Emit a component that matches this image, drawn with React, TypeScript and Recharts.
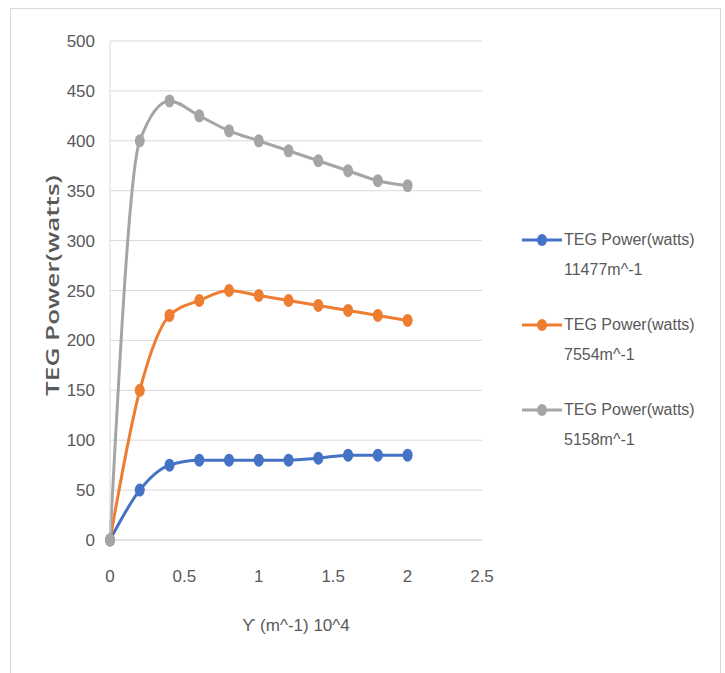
import { LineChart, Line, XAxis, YAxis, CartesianGrid, Label } from 'recharts';

const xValues = [0, 0.2, 0.4, 0.6, 0.8, 1.0, 1.2, 1.4, 1.6, 1.8, 2.0];
const power11477 = [0, 50, 75, 80, 80, 80, 80, 82, 85, 85, 85];
const power7554 = [0, 150, 225, 240, 250, 245, 240, 235, 230, 225, 220];
const power5158 = [0, 400, 440, 425, 410, 400, 390, 380, 370, 360, 355];

const xTicks = [0, 0.5, 1, 1.5, 2, 2.5];
const yTicks = [0, 50, 100, 150, 200, 250, 300, 350, 400, 450, 500];

const seriesList = [
  { key: 'a', name: 'TEG Power(watts)', sub: '11477m^-1', color: '#4472C4' },
  { key: 'b', name: 'TEG Power(watts)', sub: '7554m^-1', color: '#ED7D31' },
  { key: 'c', name: 'TEG Power(watts)', sub: '5158m^-1', color: '#A5A5A5' },
];

const chartData = xValues.map((x, i) => ({
  x,
  a: power11477[i],
  b: power7554[i],
  c: power5158[i],
}));

const font = '"Liberation Sans", sans-serif';

// Excel markers look slightly tall in the source image
function OvalDot(props: any) {
  const { cx, cy, fill } = props;
  if (cx == null || cy == null) return null;
  return <ellipse cx={cx} cy={cy} rx={5} ry={6.5} fill={fill} />;
}

function LegendBox() {
  return (
    <div
      style={{
        position: 'absolute',
        left: 522,
        top: 226,
        fontFamily: font,
        fontSize: 16,
        color: '#595959',
      }}
    >
      {seriesList.map((s) => (
        <div key={s.key} style={{ display: 'flex', alignItems: 'flex-start', height: 85 }}>
          <svg width={42} height={30} style={{ flex: 'none' }}>
            <line x1={0} y1={14} x2={40} y2={14} stroke={s.color} strokeWidth={3} />
            <ellipse cx={20} cy={14} rx={5} ry={6} fill={s.color} />
          </svg>
          <div style={{ lineHeight: '30px', marginTop: -1 }}>
            <div>{s.name}</div>
            <div>{s.sub}</div>
          </div>
        </div>
      ))}
    </div>
  );
}

function YTitle(props: any) {
  const vb = props.viewBox || {};
  const cy = vb.y + vb.height / 2 - 5;
  return (
    <text
      transform={`translate(52, ${cy}) rotate(-90) scale(1.45, 1)`}
      textAnchor="middle"
      dominantBaseline="central"
      fill="#595959"
      fontSize={18}
      fontWeight={600}
      fontFamily='"Open Sans", sans-serif'
    >
      TEG Power(watts)
    </text>
  );
}

export default function App() {
  return (
    <div style={{ position: 'absolute', left: 0, top: 0, width: 725, height: 673, background: '#fff' }}>
      <div
        style={{
          position: 'absolute',
          left: 10,
          top: 8,
          width: 709,
          height: 670,
          border: '1px solid #d9d9d9',
        }}
      />
      <LineChart
        width={725}
        height={673}
        data={chartData}
        margin={{ top: 41, right: 243, bottom: 0, left: 10 }}
        style={{ position: 'absolute', left: 0, top: 0 }}
      >
        <CartesianGrid vertical={false} stroke="#d9d9d9" />
        <XAxis
          dataKey="x"
          type="number"
          domain={[0, 2.5]}
          ticks={xTicks}
          height={133}
          tickLine={false}
          axisLine={{ stroke: '#d9d9d9' }}
          tickMargin={24}
          tick={{ fill: '#595959', fontSize: 17, fontFamily: font }}
        >
          <Label
            value="ϒ (m^-1) 10^4"
            position="insideBottom"
            offset={42}
            style={{ fill: '#595959', fontSize: 17, fontFamily: font }}
          />
        </XAxis>
        <YAxis
          type="number"
          domain={[0, 500]}
          ticks={yTicks}
          width={100}
          tickLine={false}
          axisLine={{ stroke: '#d9d9d9' }}
          tickMargin={9}
          tick={{ fill: '#595959', fontSize: 17, fontFamily: font }}
        >
          <Label content={<YTitle />} />
        </YAxis>
        {seriesList.map((s) => (
          <Line
            key={s.key}
            dataKey={s.key}
            name={s.name}
            type="monotone"
            stroke={s.color}
            strokeWidth={3}
            dot={<OvalDot fill={s.color} />}
            isAnimationActive={false}
          />
        ))}
      </LineChart>
      <LegendBox />
    </div>
  );
}
